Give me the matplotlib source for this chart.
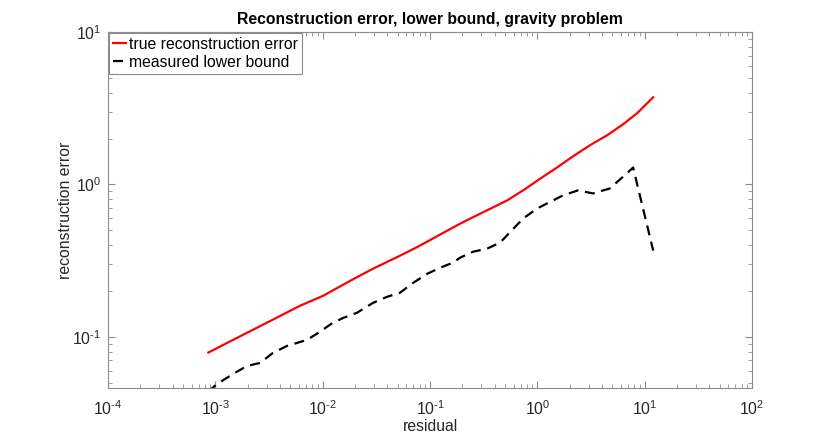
import matplotlib
matplotlib.use("Agg")
import matplotlib.pyplot as plt
from matplotlib.ticker import LogLocator, FixedLocator, FuncFormatter, NullFormatter
import numpy as np

plt.rcParams['font.family'] = ['Liberation Sans', 'DejaVu Sans']
plt.rcParams['mathtext.fontset'] = 'custom'
plt.rcParams['mathtext.rm'] = 'Liberation Sans'
plt.rcParams['mathtext.it'] = 'Liberation Sans:italic'
plt.rcParams['mathtext.bf'] = 'Liberation Sans:bold'

title = "Reconstruction error, lower bound, gravity problem"
xlabel = "residual"
ylabel = "reconstruction error"
label_true = "true reconstruction error"
label_bound = "measured lower bound"
x_exponents = [-4, -3, -2, -1, 0, 1, 2]
y_exponents = [-1, 0, 1]

true_residual = [8.61e-4, 1.46e-3, 3.03e-3, 6.15e-3, 1.01e-2, 1.80e-2, 2.94e-2,
                 5.26e-2, 8.07e-2, 0.124, 0.191, 0.252, 0.522, 0.736, 1.06,
                 1.52, 2.15, 3.10, 4.46, 6.28, 8.49, 12.0]
true_error = [0.0789, 0.0955, 0.124, 0.160, 0.186, 0.233, 0.280, 0.341, 0.397,
              0.469, 0.553, 0.610, 0.785, 0.914, 1.09, 1.29, 1.53, 1.81, 2.10,
              2.48, 2.93, 3.73]

bound_residual = [8.55e-4, 1.04e-3, 1.46e-3, 1.97e-3, 2.61e-3, 3.44e-3, 4.66e-3,
                  7.14e-3, 8.85e-3, 1.25e-2, 1.55e-2, 2.09e-2, 2.94e-2, 3.97e-2,
                  5.26e-2, 6.95e-2, 9.38e-2, 0.124, 0.164, 0.191, 0.252, 0.340,
                  0.449, 0.736, 0.993, 1.73, 2.39, 3.30, 4.75, 7.80, 12.0]
bound_error = [0.0437, 0.0491, 0.0571, 0.0644, 0.0675, 0.0785, 0.0873, 0.0955,
               0.105, 0.124, 0.133, 0.144, 0.167, 0.183, 0.195, 0.226, 0.259,
               0.284, 0.307, 0.331, 0.362, 0.379, 0.415, 0.597, 0.695, 0.847,
               0.914, 0.873, 0.942, 1.29, 0.368]

fig = plt.figure(figsize=(8.3, 4.36), dpi=100)
ax = fig.add_axes([0.1301, 0.1101, 0.776, 0.8165])

ax.plot(true_residual, true_error, color='#ff0000', lw=1.6, label=label_true)
ax.plot(bound_residual, bound_error, color='black', lw=1.6, dashes=(4.5, 3),
        label=label_bound)

ax.set_xscale('log')
ax.set_yscale('log')
ax.set_xlim(1e-4, 1e2)
ax.set_ylim(0.0462, 10)

def fmt(v, pos):
    e = int(round(np.log10(v)))
    return r'$\mathregular{10^{\text{%d}}}$' % e

ax.xaxis.set_major_locator(FixedLocator([10.0 ** e for e in x_exponents]))
ax.yaxis.set_major_locator(FixedLocator([10.0 ** e for e in y_exponents]))
ax.xaxis.set_minor_locator(LogLocator(base=10, subs=np.arange(2, 10), numticks=20))
ax.yaxis.set_minor_locator(LogLocator(base=10, subs=np.arange(2, 10), numticks=20))
ax.xaxis.set_major_formatter(FuncFormatter(fmt))
ax.yaxis.set_major_formatter(FuncFormatter(fmt))
ax.xaxis.set_minor_formatter(NullFormatter())
ax.yaxis.set_minor_formatter(NullFormatter())

gray = '#8c8c8c'
fs = 11.3
for s in ax.spines.values():
    s.set_color(gray)
    s.set_linewidth(0.8)
ax.tick_params(which='both', direction='in', top=True, right=True, color=gray,
               labelsize=fs, labelcolor='#262626')
ax.tick_params(which='major', length=5, width=0.8)
ax.tick_params(which='minor', length=3, width=0.6)
ax.tick_params(axis='x', pad=8)
ax.tick_params(axis='y', pad=5)

ax.set_title(title, fontsize=fs, fontweight='bold', pad=6)
ax.set_xlabel(xlabel, fontsize=fs, labelpad=1, color='#262626')
ax.set_ylabel(ylabel, fontsize=fs, labelpad=-1, color='#262626')

leg = ax.legend(loc='upper left', fontsize=fs, fancybox=False, framealpha=1,
                edgecolor=gray, borderaxespad=0.05, borderpad=0.25,
                handlelength=0.85, handletextpad=0.2, labelspacing=0.2)
leg.get_frame().set_linewidth(0.8)

fig.savefig('out.png', dpi=100)
